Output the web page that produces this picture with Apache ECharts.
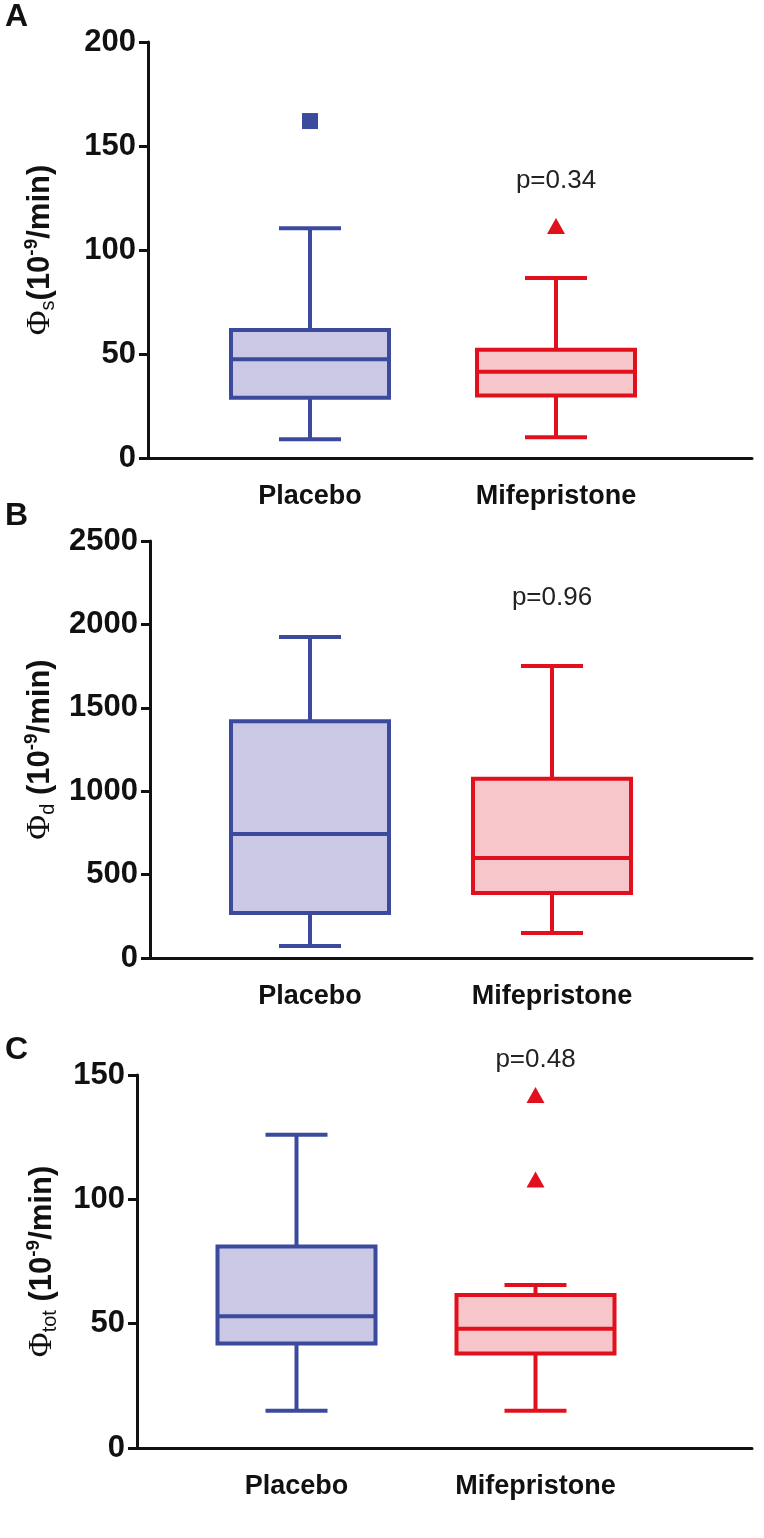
<!DOCTYPE html>
<html>
<head>
<meta charset="utf-8">
<script src="https://cdn.jsdelivr.net/npm/echarts@6/dist/echarts.min.js"></script>
<style>
html,body{margin:0;padding:0;background:#fff;}
#chart{width:764px;height:1538px;}
</style>
</head>
<body>
<div id="chart"></div>
<script>
// ---- data ----
const categories = ['Placebo', 'Mifepristone'];
// [min, Q1, median, Q3, max]
const placeboA = [9, 29, 47.5, 61.5, 110.5];
const mifeA = [10, 30, 41.5, 52, 86.5];
const outPlaceboA = [162];
const outMifeA = [111.5];
const pA = 'p=0.34';

const placeboB = [72, 270, 743, 1420, 1924];
const mifeB = [150, 390, 600, 1075, 1751];
const outPlaceboB = [];
const outMifeB = [];
const pB = 'p=0.96';

const placeboC = [15, 42, 53, 81, 126];
const mifeC = [15, 38, 48, 61.5, 65.5];
const outPlaceboC = [];
const outMifeC = [142, 108];
const pC = 'p=0.48';

const ticksA = {min: 0, max: 200, interval: 50};
const ticksB = {min: 0, max: 2500, interval: 500};
const ticksC = {min: 0, max: 150, interval: 50};

// ---- styles ----
const BLUE = '#3b4a9c', BLUE_FILL = '#cbc8e5';
const RED = '#e2101c', RED_FILL = '#f7c6cb';
const SANS = '"Liberation Sans", Arial, Helvetica, sans-serif';
const SERIF = '"Liberation Serif", "Times New Roman", serif';

const panels = [
  {letter: 'A', top: 42, h: 416, axisX: 148, boxL: 187, boxW: 492, ticks: ticksA,
   sub: 's', space: '', data: [placeboA, mifeA], out: [outPlaceboA, outMifeA], p: pA, pY: 181, nameGap: 90},
  {letter: 'B', top: 541, h: 417, axisX: 150, boxL: 189, boxW: 484, ticks: ticksB,
   sub: 'd', space: ' ', data: [placeboB, mifeB], out: [outPlaceboB, outMifeB], p: pB, pY: 598, nameGap: 92},
  {letter: 'C', top: 1075, h: 373, axisX: 137, boxL: 177, boxW: 478, ticks: ticksC,
   sub: 'tot', space: ' ', data: [placeboC, mifeC], out: [outPlaceboC, outMifeC], p: pC, pY: 1060, nameGap: 77}
];

const grid = [], xAxis = [], yAxis = [], series = [], graphic = [];
const strokes = [BLUE, RED], fills = [BLUE_FILL, RED_FILL];

panels.forEach((pn, i) => {
  const fg = i * 2, bg = i * 2 + 1;
  grid.push({left: pn.axisX, right: 12, top: pn.top, height: pn.h, containLabel: false});
  grid.push({left: pn.boxL, width: pn.boxW, top: pn.top, height: pn.h, containLabel: false});
  // frame axes
  xAxis.push({gridIndex: fg, type: 'value', min: 0, max: 1,
    axisLine: {show: true, onZero: false, lineStyle: {color: '#111', width: 3}},
    axisTick: {show: false}, axisLabel: {show: false}, splitLine: {show: false}});
  yAxis.push({gridIndex: fg, type: 'value', min: pn.ticks.min, max: pn.ticks.max, interval: pn.ticks.interval,
    axisLine: {show: true, lineStyle: {color: '#111', width: 3}},
    axisTick: {show: true, length: 9, lineStyle: {color: '#111', width: 3}},
    axisLabel: {color: '#111', fontFamily: SANS, fontWeight: 'bold', fontSize: 31, margin: 12,
      formatter: function (v) { return String(v); }},
    splitLine: {show: false},
    name: '{phi|Φ}{sub|' + pn.sub + '}{b|' + pn.space + '(10}{sup|-9}{b|/min)}',
    nameLocation: 'middle', nameGap: pn.nameGap, nameRotate: 90,
    nameTextStyle: {
      rich: {
        phi: {fontFamily: SERIF, fontSize: 34, color: '#111', lineHeight: 36},
        b: {fontFamily: SANS, fontWeight: 'bold', fontSize: 31, color: '#111', lineHeight: 36},
        sub: {fontFamily: SANS, fontSize: 20, color: '#111', verticalAlign: 'bottom', lineHeight: 20},
        sup: {fontFamily: SANS, fontWeight: 'bold', fontSize: 19, color: '#111', verticalAlign: 'top', lineHeight: 20}
      }
    }});
  // box axes
  xAxis.push({gridIndex: bg, type: 'category', data: categories,
    axisLine: {show: false}, axisTick: {show: false}, splitLine: {show: false},
    axisLabel: {color: '#111', fontFamily: SANS, fontWeight: 'bold', fontSize: 27, margin: 25}});
  yAxis.push({gridIndex: bg, type: 'value', min: pn.ticks.min, max: pn.ticks.max, show: false, splitLine: {show: false}});

  const boxData = pn.data.map((d, k) => [k].concat(d));
  series.push({
    type: 'custom', xAxisIndex: bg, yAxisIndex: bg, data: boxData,
    encode: {x: 0, y: [1, 2, 3, 4, 5]},
    renderItem: function (params, api) {
      const k = api.value(0);
      const c = strokes[params.dataIndex], f = fills[params.dataIndex];
      const pMin = api.coord([k, api.value(1)]);
      const pQ1 = api.coord([k, api.value(2)]);
      const pMed = api.coord([k, api.value(3)]);
      const pQ3 = api.coord([k, api.value(4)]);
      const pMax = api.coord([k, api.value(5)]);
      const x = pMin[0];
      const half = 79, cap = 31, lw = 4;
      const ls = {stroke: c, lineWidth: lw};
      return {type: 'group', children: [
        {type: 'line', shape: {x1: x, y1: pMax[1], x2: x, y2: pQ3[1]}, style: ls},
        {type: 'line', shape: {x1: x, y1: pQ1[1], x2: x, y2: pMin[1]}, style: ls},
        {type: 'line', shape: {x1: x - cap, y1: pMax[1], x2: x + cap, y2: pMax[1]}, style: ls},
        {type: 'line', shape: {x1: x - cap, y1: pMin[1], x2: x + cap, y2: pMin[1]}, style: ls},
        {type: 'rect', shape: {x: x - half, y: pQ3[1], width: 2 * half, height: pQ1[1] - pQ3[1]},
          style: {fill: f, stroke: c, lineWidth: lw}},
        {type: 'line', shape: {x1: x - half, y1: pMed[1], x2: x + half, y2: pMed[1]}, style: ls}
      ]};
    }
  });
  series.push({type: 'scatter', xAxisIndex: bg, yAxisIndex: bg,
    data: pn.out[0].map(v => [0, v]), symbol: 'rect', symbolSize: 16,
    itemStyle: {color: BLUE, opacity: 1}});
  series.push({type: 'scatter', xAxisIndex: bg, yAxisIndex: bg,
    data: pn.out[1].map(v => [1, v]), symbol: 'triangle', symbolSize: [18, 16],
    itemStyle: {color: RED, opacity: 1}});

  graphic.push({type: 'text', left: 5, top: pn.top - 41,
    style: {text: pn.letter, font: 'bold 32px ' + SANS, fill: '#111'}});
  graphic.push({type: 'text', x: pn.boxL + pn.boxW * 0.75, y: pn.pY,
    style: {text: pn.p, font: '26px ' + SANS, fill: '#222', align: 'center', verticalAlign: 'middle'}});
});

const chart = echarts.init(document.getElementById('chart'), null, {renderer: 'canvas'});
chart.setOption({
  backgroundColor: '#fff',
  animation: false,
  grid: grid, xAxis: xAxis, yAxis: yAxis, series: series, graphic: graphic
});
</script>
</body>
</html>
